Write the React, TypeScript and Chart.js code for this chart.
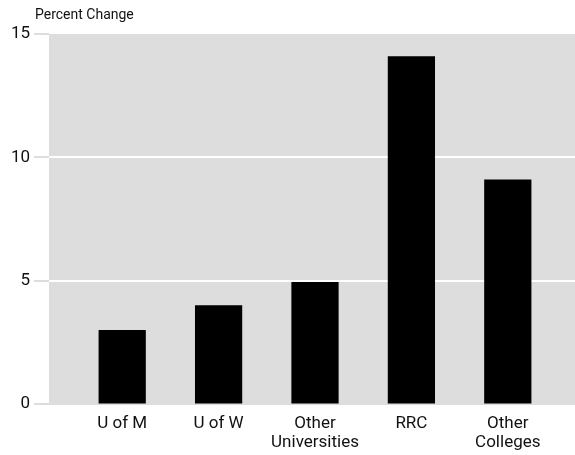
import React, { useEffect, useRef } from "react";
import { Chart, registerables } from "chart.js";

Chart.register(...registerables);

const categories: (string | string[])[] = [
  "U of M",
  "U of W",
  ["Other", "Universities"],
  "RRC",
  ["Other", "Colleges"],
];
const percentChange: number[] = [3, 4, 4.95, 14.1, 9.1];
const yTicks: number[] = [0, 5, 10, 15];

const FONT = "Roboto, 'Liberation Sans', sans-serif";
const PANEL = "#dddddd";

const panelPlugin = {
  id: "panelPlugin",
  beforeDraw(chart: any) {
    const { ctx, chartArea, width } = chart;
    ctx.save();
    ctx.fillStyle = PANEL;
    ctx.fillRect(chartArea.left - 25, chartArea.top, width - (chartArea.left - 25), chartArea.bottom - chartArea.top + 1);
    ctx.restore();
  },
  beforeDatasetsDraw(chart: any) {
    const { ctx, chartArea, width } = chart;
    const y = chart.scales.y;
    ctx.save();
    y.ticks.forEach((t: any) => {
      const py = Math.round(y.getPixelForValue(t.value));
      ctx.strokeStyle = PANEL;
      ctx.lineWidth = 2;
      ctx.beginPath();
      ctx.moveTo(chartArea.left - 40, py);
      ctx.lineTo(chartArea.left - 25, py);
      ctx.stroke();
      if (t.value === 0 || t.value === 15) return;
      ctx.strokeStyle = "#ffffff";
      ctx.beginPath();
      ctx.moveTo(chartArea.left - 25, py);
      ctx.lineTo(width, py);
      ctx.stroke();
    });
    ctx.restore();
  },
};

export default function App() {
  const ref = useRef<HTMLCanvasElement | null>(null);
  useEffect(() => {
    if (!ref.current) return;
    const chart = new Chart(ref.current, {
      type: "bar",
      data: {
        labels: categories,
        datasets: [
          {
            data: percentChange,
            backgroundColor: "#000000",
            borderWidth: 0,
            categoryPercentage: 1,
            barPercentage: 0.49,
          },
        ],
      },
      options: {
        animation: false,
        responsive: false,
        maintainAspectRatio: false,
        layout: { padding: { top: 34, right: 19, left: 0, bottom: 0 } },
        plugins: {
          legend: { display: false },
          tooltip: { enabled: false },
          title: { display: false },
        },
        scales: {
          x: {
            type: "category",
            offset: true,
            grid: { display: false, drawTicks: false },
            border: { display: false },
            ticks: {
              color: "#111",
              font: { family: FONT, size: 17, lineHeight: 1.12 },
              padding: 10,
              maxRotation: 0,
              autoSkip: false,
            },
            afterFit(scale: any) {
              scale.height = 51;
            },
          },
          y: {
            type: "linear",
            min: 0,
            max: 15,
            afterBuildTicks(scale: any) {
              scale.ticks = yTicks.map((v) => ({ value: v }));
            },
            grid: {
              drawOnChartArea: false,
              drawTicks: false,
            },
            border: { display: false },
            ticks: {
              color: "#111",
              font: { family: FONT, size: 17 },
              padding: 44,
            },
            afterFit(scale: any) {
              scale.width = 74;
              scale.paddingTop = 0;
              scale.paddingBottom = 0;
            },
          },
        },
      },
      plugins: [panelPlugin],
    });
    return () => chart.destroy();
  }, []);
  return (
    <div style={{ position: "fixed", left: 0, top: 0, width: 575, height: 455, background: "#fff" }}>
      <div
        style={{
          position: "absolute",
          left: 35,
          top: 6,
          fontFamily: FONT,
          fontSize: 14,
          color: "#111",
          lineHeight: "16px",
        }}
      >
        Percent Change
      </div>
      <canvas ref={ref} width={575} height={455} style={{ display: "block" }} />
    </div>
  );
}
